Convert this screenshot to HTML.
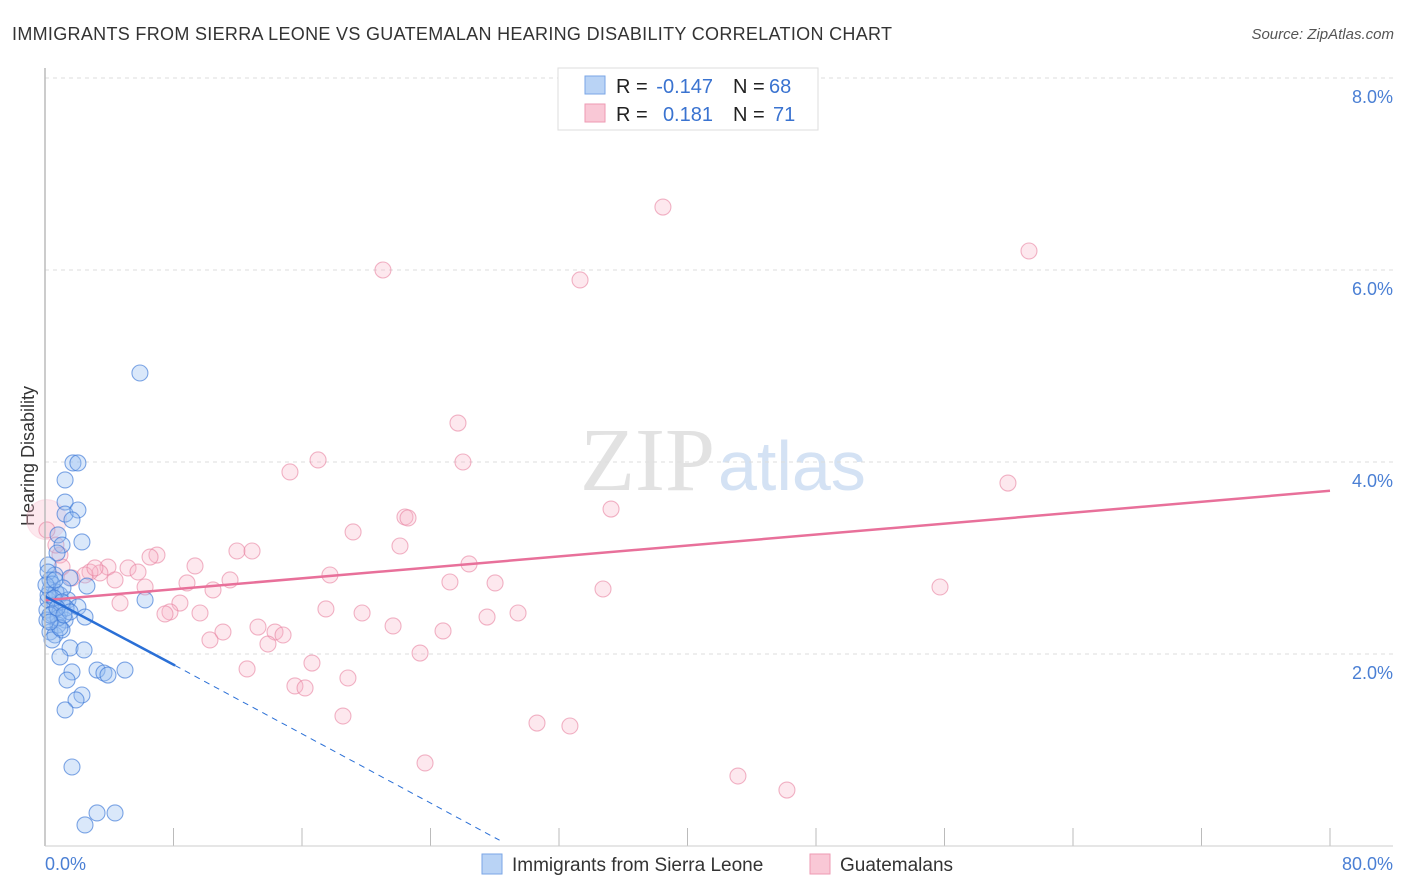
<!DOCTYPE html>
<html><head><meta charset="utf-8"><style>
body{margin:0;background:#fff;font-family:"Liberation Sans",sans-serif;}
svg{display:block}
</style></head><body>
<svg id="chart" width="1406" height="892">
<text x="12" y="40" font-size="18" fill="#333" textLength="880">IMMIGRANTS FROM SIERRA LEONE VS GUATEMALAN HEARING DISABILITY CORRELATION CHART</text>
<text x="1394" y="39" font-size="15" fill="#555" font-style="italic" text-anchor="end">Source: ZipAtlas.com</text>
<text x="715" y="490" font-size="90" fill="#e2e2e2" text-anchor="end" font-family="Liberation Serif">ZIP</text>
<text x="718" y="490" font-size="70" fill="#d4e2f4">atlas</text>
<text transform="translate(34,456) rotate(-90)" font-size="18" fill="#333" text-anchor="middle">Hearing Disability</text>
<g id="grid"></g><g id="pts"></g><g id="lines"></g>
<line x1="45" y1="68" x2="45" y2="846" stroke="#bbb" stroke-width="1.5"/>
<line x1="45" y1="846" x2="1393" y2="846" stroke="#ccc"/>
<text x="45" y="870" font-size="18" fill="#4a7fd4">0.0%</text>
<text x="1393" y="870" font-size="18" fill="#4a7fd4" text-anchor="end">80.0%</text>
<g>
<rect x="558" y="68" width="260" height="62" fill="#fff" stroke="#ddd"/>
<rect x="585" y="76" width="20" height="18" fill="#b9d3f5" stroke="#7aa6e6"/>
<rect x="585" y="104" width="20" height="18" fill="#f9c8d6" stroke="#ee9ab3"/>
<text x="616" y="93" font-size="20" fill="#222">R =</text>
<text x="713" y="93" font-size="20" fill="#3a73d0" text-anchor="end">-0.147</text>
<text x="733" y="93" font-size="20" fill="#222">N =</text>
<text x="769" y="93" font-size="20" fill="#3a73d0">68</text>
<text x="616" y="121" font-size="20" fill="#222">R =</text>
<text x="713" y="121" font-size="20" fill="#3a73d0" text-anchor="end">0.181</text>
<text x="733" y="121" font-size="20" fill="#222">N =</text>
<text x="773" y="121" font-size="20" fill="#3a73d0">71</text>
</g>
<g>
<rect x="482" y="854" width="20" height="20" fill="#b9d3f5" stroke="#7aa6e6"/>
<text x="512" y="871" font-size="19" fill="#333">Immigrants from Sierra Leone</text>
<rect x="810" y="854" width="20" height="20" fill="#f9c8d6" stroke="#ee9ab3"/>
<text x="840" y="871" font-size="19" fill="#333">Guatemalans</text>
</g>
</svg>
<script>
const yTicks=[2,4,6,8];
const xTickCount=10;
const bluePx=[[140,373],[73,463],[78,463],[65,480],[65,502],[65,514],[78,510],[72,520],[58,535],[62,545],[82,542],[57,553],[48,565],[55,575],[70,578],[87,586],[50,590],[60,595],[48,600],[55,605],[68,600],[78,607],[47,610],[52,614],[60,612],[65,620],[85,617],[58,625],[50,632],[55,635],[62,630],[145,600],[70,648],[84,650],[60,657],[97,670],[104,673],[108,675],[125,670],[72,672],[67,680],[82,695],[76,700],[65,710],[72,767],[97,813],[115,813],[85,825],[50,580],[48,572],[52,584],[56,592],[63,588],[47,620],[58,618],[66,608],[52,640],[60,628],[48,595],[54,598],[62,602],[70,612],[46,585],[50,615],[57,608],[64,615],[50,622],[55,580]];
const pinkPx=[[663,207],[1029,251],[383,270],[580,280],[458,423],[463,462],[318,460],[290,472],[1008,483],[405,517],[408,518],[611,509],[353,532],[400,546],[237,551],[252,551],[157,555],[150,557],[60,555],[195,566],[469,564],[108,567],[128,568],[138,572],[100,573],[90,572],[115,580],[330,575],[230,580],[187,583],[450,582],[495,583],[145,587],[213,590],[603,589],[940,587],[180,603],[120,603],[170,612],[165,614],[200,613],[326,609],[362,613],[518,613],[487,617],[258,627],[393,626],[223,632],[275,632],[283,635],[443,631],[210,640],[268,644],[420,653],[312,663],[247,669],[348,678],[295,686],[305,688],[537,723],[570,726],[343,716],[425,763],[738,776],[787,790],[47,530],[56,545],[62,567],[72,578],[85,575],[95,568]];
const blueX=bluePx.map(p=>+((p[0]-45)/16.0625).toFixed(2));
const blueY=bluePx.map(p=>+((846-p[1])/96).toFixed(3));
const pinkX=pinkPx.map(p=>+((p[0]-45)/16.0625).toFixed(2));
const pinkY=pinkPx.map(p=>+((846-p[1])/96).toFixed(3));
const bigPinkX=[0.1], bigPinkY=[3.4];
const blueTrend=[[0,2.6],[8.1,1.88],[28.3,0.06]];
const pinkTrend=[[0,2.56],[80,3.7]];
const NS="http://www.w3.org/2000/svg";
const sx=v=>45+v*16.0625, sy=v=>846-v*96;
const grid=document.getElementById('grid');
yTicks.forEach(t=>{
 const l=document.createElementNS(NS,'line');
 l.setAttribute('x1',45);l.setAttribute('x2',1393);l.setAttribute('y1',sy(t));l.setAttribute('y2',sy(t));
 l.setAttribute('stroke','#ddd');l.setAttribute('stroke-dasharray','4,4');
 
 
 grid.appendChild(l);
 const tx=document.createElementNS(NS,'text');
 tx.setAttribute('x',1393);tx.setAttribute('y',sy(t)+25);tx.setAttribute('text-anchor','end');
 tx.setAttribute('font-size','18');tx.setAttribute('fill','#4a7fd4');tx.textContent=t.toFixed(1)+'%';
 
 
 grid.appendChild(tx);
});
for(let k=1;k<=xTickCount;k++){
 const x=sx(k*8);
 const l=document.createElementNS(NS,'line');
 l.setAttribute('x1',x);l.setAttribute('x2',x);l.setAttribute('y1',828);l.setAttribute('y2',846);l.setAttribute('stroke','#bbb');
 
 
 grid.appendChild(l);
}
const pts=document.getElementById('pts');
function dots(X,Y,fill,stroke,name,r){
 X.forEach((x,i)=>{
  const c=document.createElementNS(NS,'circle');
  c.setAttribute('cx',sx(x));c.setAttribute('cy',sy(Y[i]));c.setAttribute('r',r);
  c.setAttribute('fill',fill);c.setAttribute('stroke',stroke);c.setAttribute('stroke-width','1.1');
  
  
  pts.appendChild(c);
 });
}
dots(bigPinkX,bigPinkY,'rgba(248,180,200,0.3)','rgba(248,180,200,0.3)','guatemalan-large-point',20);
dots(pinkX,pinkY,'rgba(248,180,200,0.3)','rgba(232,130,160,0.6)','guatemalan-point',8);
dots(blueX,blueY,'rgba(150,188,240,0.35)','rgba(60,120,215,0.65)','sierra-leone-point',8);
const lines=document.getElementById('lines');
function seg(a,b,col,dash,name,w){
 const l=document.createElementNS(NS,'line');
 l.setAttribute('x1',sx(a[0]));l.setAttribute('y1',sy(a[1]));l.setAttribute('x2',sx(b[0]));l.setAttribute('y2',sy(b[1]));
 l.setAttribute('stroke',col);l.setAttribute('stroke-width',w);if(dash)l.setAttribute('stroke-dasharray',dash);
 
 
 lines.appendChild(l);
}
seg(pinkTrend[0],pinkTrend[1],'#e8709a',null,'guatemalan-trend-line',2.5);
seg(blueTrend[0],blueTrend[1],'#2a6fd6',null,'sierra-leone-trend-line',2.5);
seg(blueTrend[1],blueTrend[2],'#2a6fd6','6,5','sierra-leone-trend-extension',1);
</script>
</body></html>
